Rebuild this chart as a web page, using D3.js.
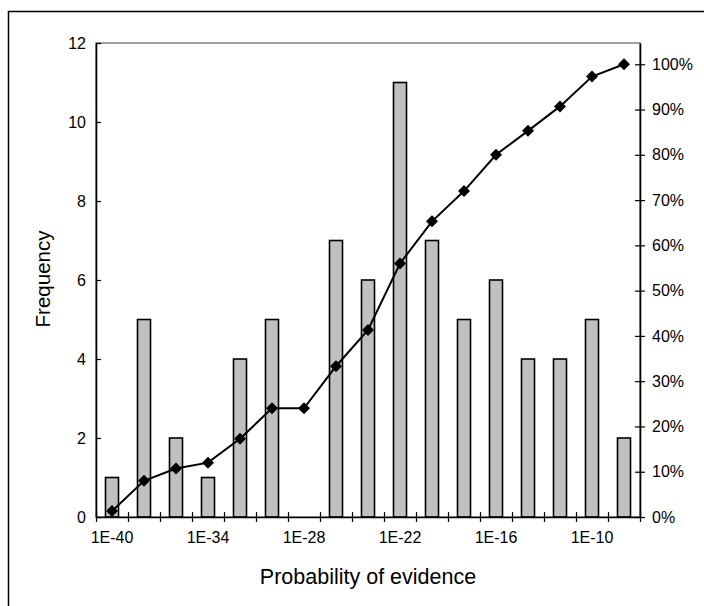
<!DOCTYPE html>
<html>
<head>
<meta charset="utf-8">
<script src="https://cdn.jsdelivr.net/npm/d3@7"></script>
<style>
  body { margin: 0; background: #fff; }
  svg { display: block; font-family: "Liberation Sans", Arial, sans-serif; }
</style>
</head>
<body>
<svg id="chart" width="704" height="606"></svg>
<script>
// bins of the histogram, labels only every third bin
const bins = d3.range(17);
const tickLabels = ['1E-40', '1E-34', '1E-28', '1E-22', '1E-16', '1E-10'];
const frequency = [1, 5, 2, 1, 4, 5, 0, 7, 6, 11, 7, 5, 6, 4, 4, 5, 2];
const cumulativePct = [1.3, 8, 10.7, 12, 17.3, 24, 24, 33.3, 41.3, 56, 65.3, 72, 80, 85.3, 90.7, 97.3, 100];

const svg = d3.select('#chart');
const plotLeft = 96, plotRight = 640, plotTop = 43, plotBottom = 517;

// outer frame (only left and top edges fall inside the picture)
svg.append('path')
  .attr('d', 'M8.5,606 L8.5,11.5 L704,11.5')
  .attr('fill', 'none')
  .attr('stroke', '#000')
  .attr('stroke-width', 1.5);

const xBin = d3.scaleLinear().domain([0, bins.length]).range([plotLeft, plotRight]);
const y = d3.scaleLinear().domain([0, 12]).range([plotBottom, plotTop]);
// right axis runs a little past 100%
const y2 = d3.scaleLinear().domain([0, 104.7]).range([plotBottom, plotTop]);

// plot area border (grey)
svg.append('rect')
  .attr('x', plotLeft).attr('y', plotTop)
  .attr('width', plotRight - plotLeft).attr('height', plotBottom - plotTop)
  .attr('fill', 'none')
  .attr('stroke', '#808080')
  .attr('stroke-width', 1.5);

// bars
svg.selectAll('rect.bar')
  .data(frequency)
  .enter().append('rect')
  .attr('class', 'bar')
  .attr('x', (d, i) => xBin(bins[i] + 0.5) - 6.5)
  .attr('width', 13)
  .attr('y', d => y(d))
  .attr('height', d => plotBottom - y(d))
  .attr('fill', '#c0c0c0')
  .attr('stroke', '#000')
  .attr('stroke-width', 1.6)
  .style('display', d => d > 0 ? null : 'none');

// left axis
const yAxis = svg.append('g')
  .attr('transform', `translate(${plotLeft},0)`)
  .call(d3.axisLeft(y).tickValues(d3.range(0, 13, 2)).tickSize(5).tickSizeOuter(0));
yAxis.selectAll('.tick line').attr('x2', 5);

// right axis
const y2Axis = svg.append('g')
  .attr('transform', `translate(${plotRight},0)`)
  .call(d3.axisRight(y2).tickValues(d3.range(0, 101, 10)).tickFormat(d => d + '%').tickSize(5).tickSizeOuter(0));
y2Axis.selectAll('.tick line').attr('x1', -5);

// bottom axis with ticks at bin edges
const xAxis = svg.append('g')
  .attr('transform', `translate(0,${plotBottom})`)
  .call(d3.axisBottom(xBin).tickValues(d3.range(0, bins.length + 1)).tickFormat('').tickSize(5).tickSizeOuter(0));
xAxis.selectAll('.tick line').attr('y1', -5);

svg.selectAll('.domain').attr('stroke', '#000').attr('stroke-width', 1.6);
svg.selectAll('.tick line').attr('stroke', '#000').attr('stroke-width', 1.2);
svg.selectAll('.tick text').attr('font-size', 16).attr('fill', '#000').attr('font-family', 'Liberation Sans, Arial, sans-serif');
yAxis.selectAll('.tick text').attr('x', -10);
y2Axis.selectAll('.tick text').attr('x', 12);

// x labels at every third bin centre
svg.selectAll('text.xlab')
  .data(tickLabels)
  .enter().append('text')
  .attr('class', 'xlab')
  .attr('x', (d, i) => xBin(i * 3 + 0.5))
  .attr('y', plotBottom + 26)
  .attr('text-anchor', 'middle')
  .attr('font-size', 16)
  .text(d => d);

// cumulative line
const line = d3.line()
  .x((d, i) => xBin(i + 0.5))
  .y(d => y2(d));

svg.append('path')
  .datum(cumulativePct)
  .attr('d', line)
  .attr('fill', 'none')
  .attr('stroke', '#000')
  .attr('stroke-width', 2);

svg.selectAll('path.marker')
  .data(cumulativePct)
  .enter().append('path')
  .attr('class', 'marker')
  .attr('transform', (d, i) => `translate(${xBin(i + 0.5)},${y2(d)})`)
  .attr('d', 'M0,-6 L6,0 L0,6 L-6,0 Z')
  .attr('fill', '#000');

// axis titles
svg.append('text')
  .attr('x', 368)
  .attr('y', 584)
  .attr('text-anchor', 'middle')
  .attr('font-size', 21.5)
  .text('Probability of evidence');

svg.append('text')
  .attr('transform', 'translate(50,279) rotate(-90)')
  .attr('text-anchor', 'middle')
  .attr('font-size', 20.5)
  .text('Frequency');
</script>
</body>
</html>
